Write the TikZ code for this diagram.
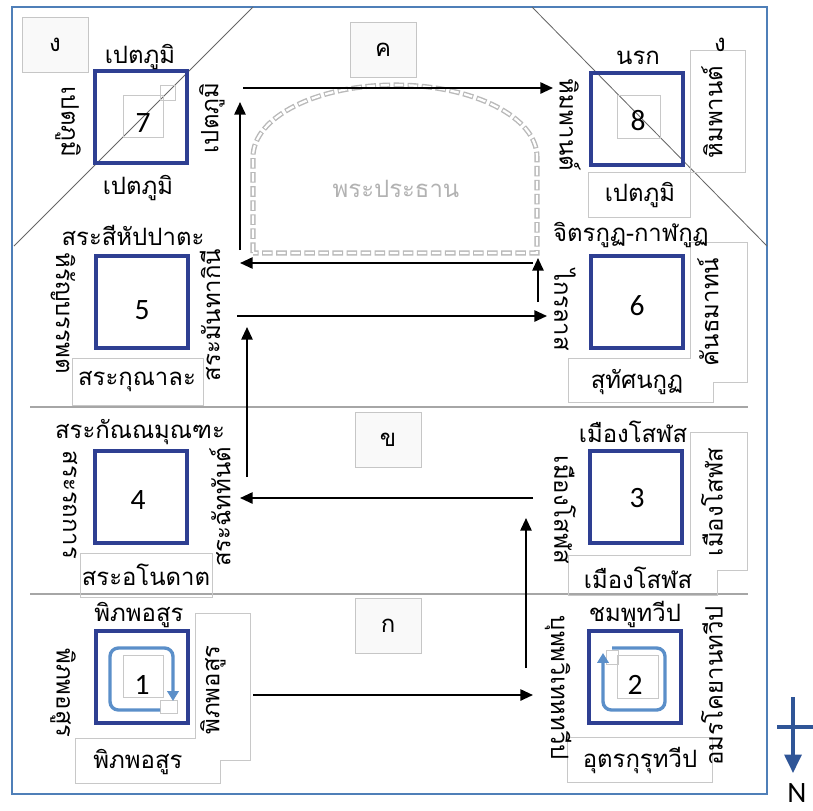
\documentclass[tikz,border=0pt]{standalone}
\usepackage{fontspec}
\setmainfont{Carlito}
\newfontfamily\thaifont[Script=Thai]{Loma}
\usetikzlibrary{arrows.meta}
\definecolor{realmblue}{HTML}{2E3F92}
\definecolor{frameblue}{HTML}{4F7FB8}
\definecolor{loopblue}{HTML}{5B8FC9}
\definecolor{tagline}{HTML}{C8C8C8}
\definecolor{compassblue}{HTML}{2F5597}

\begin{document}
\begin{tikzpicture}[x=0.025cm, y=-0.025cm,
    realm/.style={draw=realmblue, line width=3.5pt, minimum size=2.3cm, inner sep=0pt},
    digit/.style={font=\fontsize{21}{21}\selectfont, inner sep=0pt},
    thai/.style={font=\thaifont\fontsize{17}{20}\selectfont, inner sep=0pt},
    zone/.style={draw=gray!45, fill=gray!5, line width=0.6pt, minimum width=1.65cm, minimum height=1.38cm, font=\thaifont\fontsize{17}{20}\selectfont},
    tag/.style={draw=tagline, line width=0.6pt},
    flow/.style={black, line width=1.4pt, -{Triangle[length=9pt, width=8pt]}},
    swirl/.style={loopblue, line width=2.4pt, rounded corners=6pt, -{Triangle[length=7pt, width=8pt]}},
    dome/.style={gray!55, line width=3.6pt, dash pattern=on 7.5pt off 2.5pt, postaction={draw=white, line width=1.6pt, dash pattern=on 6pt off 4pt, dash phase=9.25pt}},
    ]
    \useasboundingbox (0,0) rectangle (813,810);

    % frame, zone lines
    \draw [frameblue, line width=1.5pt] (12,7) rectangle (767,794);
    \draw [gray!70, line width=1pt] (30,407) -- (748,407);
    \draw [gray!70, line width=1pt] (30,594) -- (748,594);
    \draw [gray!80!black, line width=0.6pt] (253,7) -- (14,246);
    \draw [gray!80!black, line width=0.6pt] (532,7) -- (767,246);

    \node [zone] (zoneng) at (55,45) {ง};
    \node [zone] (zonekh) at (383,50) {ค};
    \node [zone] (zonekho) at (388,440) {ข};
    \node [zone] (zoneko) at (388,626) {ก};

    % text boxes
    \draw [tag] (72,358) rectangle (203,405);
    \draw [tag] (80,553) rectangle (212,597);
    \draw [tag] (567,737) rectangle (712,782);
    \draw [tag] (690,50) rectangle (745,172);
    \draw [tag] (588,172) rectangle (690,217);
    \draw [tag] (690,242) -- (747,242) -- (747,382) -- (713,382) -- (713,402) -- (568,402) -- (568,358) -- (690,358) -- cycle;
    \draw [tag] (690,432) -- (747,432) -- (747,570) -- (717,570) -- (717,595) -- (568,595) -- (568,555) -- (690,555) -- cycle;
    \draw [tag] (195,613) -- (250,613) -- (250,760) -- (220,760) -- (220,783) -- (75,783) -- (75,738) -- (195,738) -- cycle;
    \draw [tag] (123,95) rectangle (163,137);
    \draw [tag] (160,85) rectangle (175,100);
    \draw [tag] (617,95) rectangle (660,138);
    \draw [tag] (123,655) rectangle (163,697);
    \draw [tag] (160,700) rectangle (177,713);
    \draw [tag] (617,655) rectangle (658,698);
    \draw [tag] (606,650) rectangle (618,664);

    % main hall
    \draw [dome] (253,253) -- (253,157) arc [start angle=180, end angle=360, x radius=142, y radius=72] -- (537,253) -- cycle;
    \node [thai, gray!60] (hall) at (396,189) {พระประธาน};

    % realms
    \node [realm] (realm7) at (141,117) {};
    \node [realm] (realm8) at (637,119) {};
    \node [realm] (realm5) at (142,302) {};
    \node [realm] (realm6) at (637,302) {};
    \node [realm] (realm4) at (141,497) {};
    \node [realm] (realm3) at (636,497) {};
    \node [realm] (realm1) at (142,677) {};
    \node [realm] (realm2) at (635,677) {};
    \node [digit] (num7) at (143,123) {7};
    \node [digit] (num8) at (638,121) {8};
    \node [digit] (num5) at (142,310) {5};
    \node [digit] (num6) at (637,306) {6};
    \node [digit] (num4) at (138,500) {4};
    \node [digit] (num3) at (637,498) {3};
    \node [digit] (num1) at (142,685) {1};
    \node [digit] (num2) at (635,685) {2};

    \draw [swirl] (160,710) -- (110,710) -- (110,648) -- (173,648) -- (173,701);
    \draw [swirl] (612,648) -- (665,648) -- (665,710) -- (603,710) -- (603,653);

    % labels
    \node [thai] (top7) at (140,57) {เปตภูมิ};
    \node [thai, rotate=-90] (left7) at (68,122) {เปตภูมิ};
    \node [thai, rotate=90] (right7) at (212,118) {เปตภูมิ};
    \node [thai] (bot7) at (138,188) {เปตภูมิ};

    \node [thai] (top8) at (638,58) {นรก};
    \node [thai, rotate=-90] (left8) at (570,125) {หิมพานต์};
    \node [thai, rotate=90] (right8) at (712,112) {หิมพานต์};
    \node [thai] (bot8) at (640,195) {เปตภูมิ};
    \node [thai] (corner8) at (720,45) {ง};

    \node [thai] (top5) at (133,235) {สระสีหัปปาตะ};
    \node [thai, rotate=-90] (left5) at (63,313) {หิรัญบรรพต};
    \node [thai, rotate=90] (right5) at (210,315) {สระมันทากินี};
    \node [thai] (bot5) at (137,382) {สระกุณาละ};

    \node [thai] (top6) at (631,235) {จิตรกูฏ-กาฬกูฏ};
    \node [thai, rotate=-90] (left6) at (565,310) {ไกรลาส};
    \node [thai, rotate=90] (right6) at (708,312) {คันธมาทน์};
    \node [thai] (bot6) at (637,382) {สุทัศนกูฏ};

    \node [thai] (top4) at (140,432) {สระกัณณมุณฑะ};
    \node [thai, rotate=-90] (left4) at (70,505) {สระรถการ};
    \node [thai, rotate=90] (right4) at (220,507) {สระฉัททันต์};
    \node [thai] (bot4) at (146,575) {สระอโนดาต};

    \node [thai] (top3) at (633,432) {เมืองโสฬส};
    \node [thai, rotate=-90] (left3) at (565,510) {เมืองโสฬส};
    \node [thai, rotate=90] (right3) at (712,502) {เมืองโสฬส};
    \node [thai] (bot3) at (638,578) {เมืองโสฬส};

    \node [thai] (top1) at (139,615) {พิภพอสูร};
    \node [thai, rotate=-90] (left1) at (63,693) {พิภพอสูร};
    \node [thai, rotate=90] (right1) at (213,690) {พิภพอสูร};
    \node [thai] (bot1) at (138,762) {พิภพอสูร};

    \node [thai] (top2) at (635,614) {ชมพูทวีป};
    \node [thai, rotate=-90] (left2) at (558,688) {บุพพวิเทหทวีป};
    \node [thai, rotate=90] (right2) at (712,686) {อมรโคยานทวีป};
    \node [thai] (bot2) at (640,760) {อุตรกุรุทวีป};

    % path of the walk
    \coordinate (w1) at (253,695);
    \coordinate (w2) at (533,695);
    \coordinate (w3) at (526,668);
    \coordinate (w4) at (526,518);
    \coordinate (w5) at (533,498);
    \coordinate (w6) at (240,498);
    \coordinate (w7) at (247,477);
    \coordinate (w8) at (247,327);
    \coordinate (w9) at (237,316);
    \coordinate (w10) at (547,316);
    \coordinate (w11) at (538,302);
    \coordinate (w12) at (538,258);
    \coordinate (w13) at (533,263);
    \coordinate (w14) at (240,263);
    \coordinate (w15) at (240,250);
    \coordinate (w16) at (240,102);
    \coordinate (w17) at (243,88);
    \coordinate (w18) at (553,88);
    \draw [flow] (w1) -- (w2);
    \draw [flow] (w3) -- (w4);
    \draw [flow] (w5) -- (w6);
    \draw [flow] (w7) -- (w8);
    \draw [flow] (w9) -- (w10);
    \draw [flow] (w11) -- (w12);
    \draw [flow] (w13) -- (w14);
    \draw [flow] (w15) -- (w16);
    \draw [flow] (w17) -- (w18);

    % compass
    \coordinate (nup) at (793,697);
    \coordinate (ndown) at (793,773);
    \coordinate (bwest) at (777,727);
    \coordinate (beast) at (813,727);
    \draw [compassblue, line width=2.2pt, -{Triangle[length=13pt, width=12pt]}] (nup) -- (ndown);
    \draw [compassblue, line width=2.2pt] (bwest) -- (beast);
    \node [font=\fontsize{21}{21}\selectfont, inner sep=0pt] (north) at (797,793) {N};
\end{tikzpicture}
\end{document}
